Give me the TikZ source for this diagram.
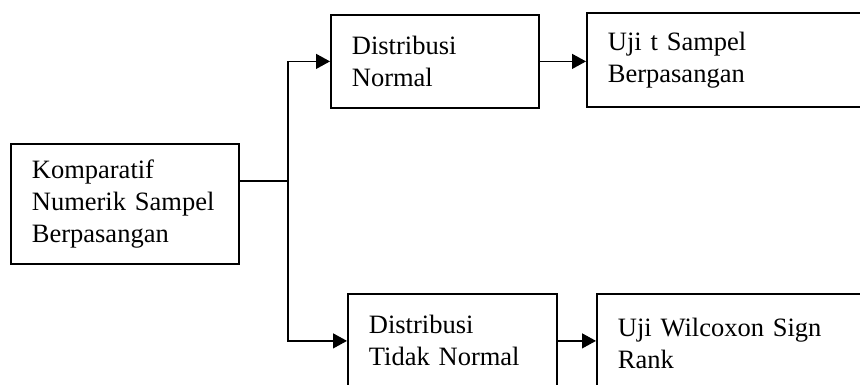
\documentclass[tikz,border=0pt]{standalone}
\usepackage{fontspec}
\setmainfont{Liberation Serif}
\usetikzlibrary{arrows.meta}
\tikzset{
  box/.style={draw=black, line width=1.8pt, anchor=north west, align=left,
    inner xsep=21pt, inner ysep=2pt,
    font=\fontsize{26.5pt}{32pt}\selectfont},
  conn/.style={draw=black, line width=1.3pt},
  arr/.style={conn, -{Triangle[length=14pt,width=15pt]}}
}
\begin{document}
\begin{tikzpicture}[x=1pt,y=-1pt]
\path[use as bounding box] (0,0) rectangle (860,385);
\clip (0,0) rectangle (860,385);
\node[box, minimum width=228pt, minimum height=120pt, text width=186pt] (b1) at (10,143)
  {Komparatif\\Numerik Sampel\\Berpasangan};
\node[box, minimum width=208pt, minimum height=93pt, text width=166pt] (b2) at (330,14)
  {Distribusi\\Normal};
\node[box, minimum width=290pt, minimum height=94pt, text width=248pt] (b3) at (586,12)
  {Uji t Sampel\\Berpasangan};
\node[box, minimum width=209pt, minimum height=94pt, text width=167pt] (b4) at (347,293)
  {Distribusi\\Tidak Normal};
\node[box, minimum width=290pt, minimum height=100pt, text width=248pt] (b5) at (596,293)
  {Uji Wilcoxon Sign\\Rank};
\coordinate (j) at (288,181);
\path[conn] (b1.east |- j) -- (j);
\path[arr] (j) |- (b2.west);
\path[arr] (j) |- (b4.west);
\path[arr] (b2.east) -- (b3.west |- b2.east);
\path[arr] (b4.east) -- (b5.west |- b4.east);
\end{tikzpicture}
\end{document}
